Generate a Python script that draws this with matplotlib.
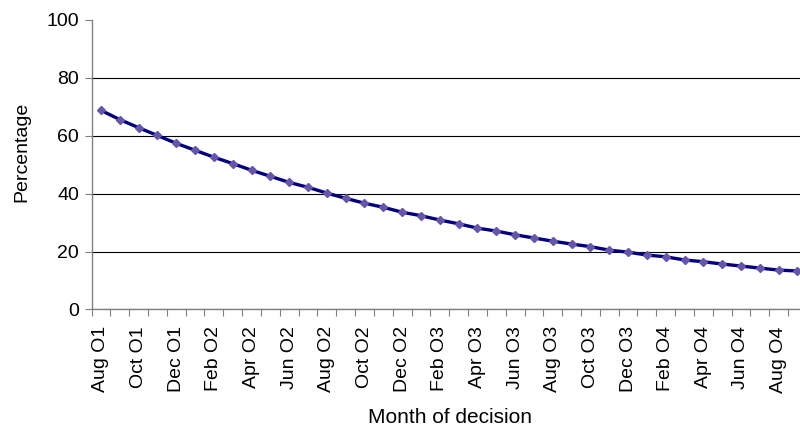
"""Share of decisions by month, line chart."""
import matplotlib
matplotlib.use("Agg")
import matplotlib.pyplot as plt

plt.rcParams['font.family'] = ['Liberation Sans', 'DejaVu Sans']

# one point per month, Aug 01 .. Sep 04
months = [
    "Aug O1", "Sep O1", "Oct O1", "Nov O1", "Dec O1",
    "Jan O2", "Feb O2", "Mar O2", "Apr O2", "May O2", "Jun O2", "Jul O2",
    "Aug O2", "Sep O2", "Oct O2", "Nov O2", "Dec O2",
    "Jan O3", "Feb O3", "Mar O3", "Apr O3", "May O3", "Jun O3", "Jul O3",
    "Aug O3", "Sep O3", "Oct O3", "Nov O3", "Dec O3",
    "Jan O4", "Feb O4", "Mar O4", "Apr O4", "May O4", "Jun O4", "Jul O4",
    "Aug O4", "Sep O4",
]
percentage = [
    68.8, 65.6, 62.8, 60.1, 57.4, 55.0, 52.6, 50.4, 48.1, 46.0, 43.9, 42.2,
    40.2, 38.4, 36.7, 35.3, 33.6, 32.4, 30.9, 29.6, 28.1, 27.1, 25.8, 24.7,
    23.6, 22.6, 21.7, 20.5, 19.8, 18.8, 18.2, 17.1, 16.5, 15.7, 15.0, 14.3,
    13.6, 13.3,
]
y_ticks = [0, 20, 40, 60, 80, 100]

fig = plt.figure(figsize=(8, 4.29), dpi=100)
ax = fig.add_axes([0.1144, 0.2786, 0.8942, 0.6748])

x = list(range(len(months)))
ax.plot(x, percentage, color='#000080', linewidth=2.4, zorder=3,
        marker='D', markersize=3.6, markerfacecolor='#6655aa',
        markeredgecolor='#6655aa')

# gridlines (none on the top value)
ax.set_ylim(0, 100)
ax.set_yticks(y_ticks)
ax.yaxis.grid(True, color='black', linewidth=0.8)
ax.get_ygridlines()[-1].set_visible(False)
ax.set_axisbelow(True)

# category axis: ticks between months, labels every other month
ax.set_xlim(-0.5, len(months) - 0.5)
ax.set_xticks([i - 0.5 for i in range(len(months) + 1)])
ax.set_xticklabels([])
ax.set_xticks(x[::2], minor=True)
ax.set_xticklabels(months[::2], minor=True, rotation=90)
ax.tick_params(axis='x', which='minor', length=0, pad=12, labelsize=14)
ax.tick_params(axis='x', which='major', length=5, color='#808080', direction='out')
ax.tick_params(axis='y', length=5, color='#808080', labelsize=14, pad=4)

for side in ['top', 'right']:
    ax.spines[side].set_visible(False)
for side in ['left', 'bottom']:
    ax.spines[side].set_color('#808080')
    ax.spines[side].set_linewidth(1.0)

ax.set_ylabel("Percentage", fontsize=14)
ax.yaxis.set_label_coords(-0.086, 0.544)
ax.set_xlabel("Month of decision", fontsize=15)
ax.xaxis.set_label_coords((450 - 91.5) / 715.4, -0.34)

plt.savefig("out.png", dpi=100)
plt.close()
